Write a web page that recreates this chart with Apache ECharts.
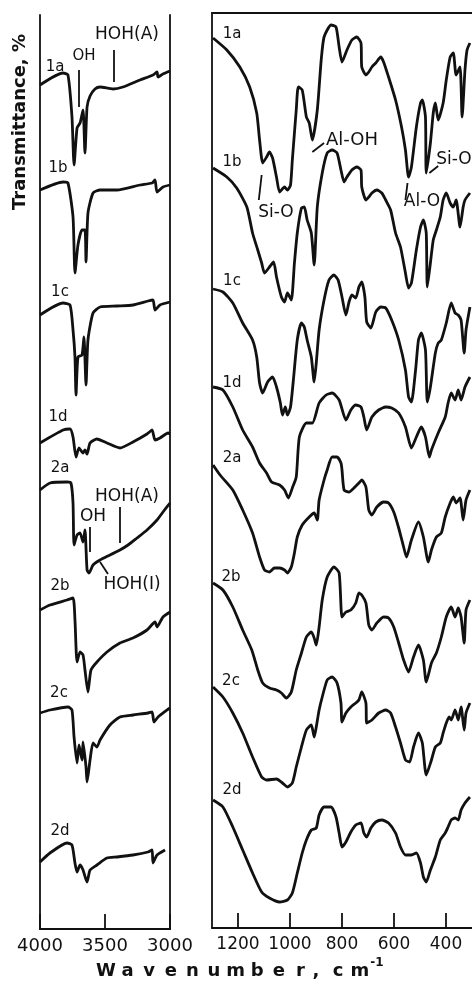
<!DOCTYPE html>
<html>
<head>
<meta charset="utf-8">
<script src="https://cdn.jsdelivr.net/npm/echarts@6/dist/echarts.min.js"></script>
<style>
	html, body { margin: 0; padding: 0; background: #fff; }
	#chart { width: 472px; height: 983px; }
</style>
</head>
<body>
<div id="chart"></div>
<script>
// samples, top to bottom
var sampleNames = ['1a', '1b', '1c', '1d', '2a', '2b', '2c', '2d'];

// tick labels
var hiTicks = [4000, 3500, 3000];
var loTicks = [1200, 1000, 800, 600, 400];

// 4000-3000 cm-1 region: [wavenumber, stacked transmittance]
var hi1a = [[4000,844],[3823,856],[3785,854],[3754,812],[3738,764],[3715,801],[3692,806],[3669,819],[3654,776],[3638,822],[3615,833],[3577,840],[3538,842],[3438,840],[3362,842],[3231,849],[3131,854],[3100,857],[3092,852],[3054,855],[3000,858]];
var hi1b = [[4000,739],[3823,747],[3785,746],[3746,712],[3731,656],[3708,684],[3677,699],[3654,699],[3646,667],[3631,716],[3592,736],[3538,739],[3408,739],[3231,744],[3138,746],[3115,749],[3100,737],[3054,742],[3000,744]];
var hi1c = [[4000,614],[3823,626],[3769,624],[3746,599],[3731,572],[3723,534],[3708,572],[3677,574],[3662,592],[3646,544],[3631,589],[3592,616],[3538,622],[3408,623],[3285,624],[3169,628],[3131,629],[3115,619],[3077,624],[3000,627]];
var hi1d = [[4000,486],[3823,499],[3769,500],[3746,492],[3723,472],[3700,481],[3669,476],[3654,479],[3638,475],[3615,486],[3562,490],[3485,486],[3385,481],[3285,487],[3177,495],[3138,499],[3115,489],[3077,491],[3015,496],[3000,495]];
var hi2a = [[4000,439],[3923,446],[3792,447],[3762,446],[3746,426],[3738,384],[3715,394],[3692,396],[3669,387],[3654,399],[3638,359],[3623,356],[3592,364],[3538,369],[3462,374],[3385,379],[3323,384],[3254,391],[3177,399],[3100,409],[3054,417],[3000,426]];
var hi2b = [[4000,319],[3923,324],[3792,329],[3746,331],[3731,309],[3715,267],[3692,277],[3669,274],[3654,259],[3631,237],[3608,259],[3562,267],[3485,277],[3385,286],[3285,291],[3177,299],[3115,307],[3100,302],[3054,312],[3000,317]];
var hi2c = [[4000,216],[3923,219],[3785,222],[3754,219],[3738,192],[3715,166],[3700,184],[3677,169],[3669,187],[3646,162],[3638,147],[3615,169],[3592,186],[3562,182],[3538,189],[3462,204],[3385,212],[3285,214],[3169,216],[3138,217],[3123,207],[3092,212],[3023,219],[3000,221]];
var hi2d = [[4000,67],[3923,76],[3792,86],[3754,84],[3731,66],[3715,57],[3692,64],[3669,59],[3638,47],[3615,59],[3562,64],[3485,71],[3408,72],[3285,74],[3169,77],[3138,79],[3131,66],[3100,74],[3038,79]];

// 1300-300 cm-1 region
var lo1a = [[1296,890],[1243,878],[1193,861],[1155,841],[1128,815],[1117,788],[1105,765],[1090,771],[1079,776],[1067,770],[1052,751],[1040,736],[1021,741],[1010,738],[998,743],[991,768],[976,818],[968,841],[953,838],[937,811],[926,805],[914,788],[895,818],[880,868],[869,891],[842,903],[823,901],[811,881],[800,866],[781,878],[762,888],[743,891],[727,885],[724,861],[708,853],[697,856],[685,861],[670,865],[651,871],[640,866],[621,851],[594,828],[571,801],[556,778],[544,751],[533,761],[514,801],[498,825],[491,828],[479,811],[476,755],[460,785],[449,815],[441,825],[430,808],[411,825],[399,848],[384,871],[372,875],[361,853],[346,861],[338,811],[327,858],[319,878],[308,885]];
var lo1b = [[1296,760],[1243,751],[1205,740],[1166,721],[1144,695],[1124,678],[1109,665],[1098,655],[1079,661],[1063,666],[1052,651],[1033,631],[1021,626],[1010,635],[995,628],[983,665],[972,695],[956,720],[945,721],[934,708],[918,695],[907,663],[895,721],[876,755],[857,775],[838,778],[819,775],[804,758],[792,746],[781,751],[762,758],[743,761],[727,758],[724,741],[708,728],[697,731],[685,735],[666,738],[647,735],[632,728],[613,718],[594,695],[575,681],[556,655],[544,640],[533,645],[514,678],[498,701],[487,708],[476,695],[472,641],[460,665],[449,688],[437,698],[422,711],[411,728],[399,735],[384,725],[372,721],[361,728],[346,701],[334,721],[327,728],[308,735]];
var lo1c = [[1296,639],[1258,636],[1220,625],[1182,605],[1144,588],[1128,571],[1117,545],[1105,535],[1086,546],[1067,551],[1052,541],[1037,525],[1029,513],[1018,521],[1010,513],[998,521],[987,548],[972,588],[956,605],[945,601],[934,588],[918,571],[907,546],[899,565],[888,598],[869,628],[850,648],[831,653],[815,648],[800,631],[785,613],[773,626],[762,633],[747,630],[735,641],[724,646],[712,631],[705,606],[689,600],[670,616],[651,621],[632,620],[609,608],[582,588],[556,558],[544,531],[533,526],[517,558],[506,588],[495,595],[479,578],[472,526],[460,541],[441,575],[430,585],[418,588],[399,605],[380,625],[365,615],[353,613],[342,608],[330,575],[323,598],[308,621]];
var lo1d = [[1296,541],[1258,538],[1220,521],[1182,498],[1144,481],[1117,465],[1090,455],[1071,446],[1040,443],[1021,438],[1006,430],[991,440],[976,451],[964,491],[937,505],[914,505],[888,525],[861,533],[838,535],[811,528],[785,508],[766,518],[747,523],[727,521],[716,511],[705,498],[685,511],[659,518],[632,521],[609,520],[582,515],[556,501],[533,480],[514,491],[495,501],[479,491],[464,471],[456,478],[430,495],[403,511],[392,525],[380,535],[365,528],[353,538],[342,528],[327,541],[308,551]];
var lo2a = [[1296,463],[1269,453],[1220,438],[1182,418],[1144,395],[1117,371],[1098,358],[1079,356],[1060,360],[1040,360],[1021,358],[1010,355],[995,361],[983,375],[972,391],[953,403],[926,411],[907,415],[895,408],[888,428],[869,448],[857,458],[838,471],[819,471],[804,465],[800,458],[792,438],[773,436],[754,440],[735,445],[724,448],[708,441],[697,418],[685,413],[666,421],[640,426],[621,425],[601,416],[582,400],[563,381],[552,371],[533,388],[506,406],[487,391],[468,366],[456,378],[437,391],[418,395],[403,411],[384,425],[372,431],[361,425],[346,430],[334,408],[323,428],[308,438]];
var lo2b = [[1296,345],[1258,338],[1220,321],[1182,298],[1147,278],[1124,258],[1105,245],[1079,240],[1052,238],[1033,235],[1014,230],[995,236],[976,258],[956,275],[937,291],[918,296],[907,290],[899,283],[888,301],[876,328],[857,351],[831,361],[811,355],[800,311],[785,316],[766,318],[747,325],[735,335],[724,333],[708,325],[697,303],[685,298],[666,305],[640,311],[621,310],[601,301],[582,285],[563,268],[544,256],[525,271],[506,283],[487,268],[476,246],[456,265],[437,275],[418,291],[399,311],[380,321],[365,311],[353,320],[342,311],[330,285],[323,318],[308,328]];
var lo2c = [[1296,241],[1258,231],[1220,215],[1182,195],[1144,171],[1109,151],[1090,148],[1052,149],[1029,145],[1010,141],[991,145],[976,161],[956,181],[937,198],[918,203],[907,191],[899,201],[888,218],[876,231],[857,248],[838,251],[819,245],[804,225],[800,206],[785,215],[766,221],[747,225],[735,228],[724,236],[708,225],[705,205],[685,208],[659,215],[632,218],[613,215],[594,201],[575,185],[556,168],[540,166],[525,181],[506,195],[491,185],[476,153],[456,168],[441,181],[422,185],[411,195],[399,205],[388,211],[380,208],[365,218],[353,208],[342,221],[330,198],[323,215],[308,225]];
var lo2d = [[1296,128],[1258,121],[1220,101],[1182,78],[1144,55],[1109,36],[1079,30],[1040,26],[1010,28],[991,35],[972,55],[953,75],[937,88],[918,98],[899,100],[888,113],[869,121],[842,121],[823,111],[811,95],[800,81],[785,86],[766,96],[747,103],[727,105],[716,95],[705,91],[689,100],[670,106],[647,108],[621,105],[594,95],[575,81],[556,73],[533,73],[514,75],[498,65],[487,51],[476,46],[460,58],[441,71],[422,88],[403,95],[392,101],[380,108],[365,110],[353,108],[342,118],[327,125],[308,131]];

// band marker strokes
var hiMarks = [
	[[3700,859],[3700,822]],
	[[3431,879],[3431,847]],
	[[3615,402],[3615,377]],
	[[3385,422],[3385,386]],
	[[3538,367],[3477,355]]
];
var loMarks = [
	[[914,776],[869,785]],
	[[1109,753],[1120,728]],
	[[548,745],[556,728]],
	[[464,755],[430,762]]
];

var chart = echarts.init(document.getElementById('chart'));

var ink = '#111';
var hiTraces = [hi1a, hi1b, hi1c, hi1d, hi2a, hi2b, hi2c, hi2d];
var loTraces = [lo1a, lo1b, lo1c, lo1d, lo2a, lo2b, lo2c, lo2d];

function frameAxis(extra)
{
	var a = {
		type: 'value',
		axisLine: { show: true, lineStyle: { color: ink, width: 1.8 } },
		axisTick: { show: false },
		axisLabel: { show: false },
		splitLine: { show: false }
	};
	for (var k in extra) a[k] = extra[k];
	return a;
}

function markLineOf(marks)
{
	return {
		silent: true,
		symbol: ['none', 'none'],
		label: { show: false },
		lineStyle: { color: ink, width: 1.8, type: 'solid' },
		data: marks.map(function(m) { return [{ coord: m[0] }, { coord: m[1] }]; })
	};
}

var series = [];
for (var i = 0; i < sampleNames.length; i++)
{
	series.push({
		name: sampleNames[i] + ' OH',
		type: 'line', xAxisIndex: 0, yAxisIndex: 0,
		data: hiTraces[i], showSymbol: false, smooth: 0.2,
		lineStyle: { color: ink, width: 2.8 },
		markLine: i == 0 ? markLineOf(hiMarks) : undefined
	});
	series.push({
		name: sampleNames[i] + ' lattice',
		type: 'line', xAxisIndex: 2, yAxisIndex: 2,
		data: loTraces[i], showSymbol: false, smooth: 0.2,
		lineStyle: { color: ink, width: 2.8 },
		markLine: i == 0 ? markLineOf(loMarks) : undefined
	});
}

var labelFont = '15px "DejaVu Sans"';
var noteFont = '17px "DejaVu Sans"';
var texts = [
	['1a', 55, 67, labelFont], ['OH', 84, 56, '15px "DejaVu Sans"'], ['HOH(A)', 127, 35, noteFont],
	['1b', 58, 168, labelFont], ['1c', 60, 292, labelFont], ['1d', 58, 417, labelFont],
	['2a', 60, 468, labelFont], ['HOH(A)', 127, 497, noteFont], ['OH', 93, 517, noteFont],
	['HOH(I)', 132, 585, noteFont], ['2b', 60, 586, labelFont], ['2c', 59, 693, labelFont],
	['2d', 60, 831, labelFont],
	['1a', 232, 34, labelFont], ['Al-OH', 352, 140, '18px "DejaVu Sans"'], ['Si-O', 454, 160, noteFont],
	['1b', 232, 162, labelFont], ['Si-O', 276, 213, noteFont], ['Al-O', 422, 202, noteFont],
	['1c', 232, 281, labelFont], ['1d', 232, 383, labelFont], ['2a', 232, 458, labelFont],
	['2b', 231, 577, labelFont], ['2c', 231, 681, labelFont], ['2d', 232, 790, labelFont]
];

var graphic = texts.map(function(t)
{
	return { type: 'text', x: t[1], y: t[2], silent: true,
		style: { text: t[0], font: t[3], fill: ink, align: 'center', verticalAlign: 'middle' } };
});

graphic.push({ type: 'text', x: 20, y: 122, rotation: Math.PI / 2, silent: true,
	style: { text: 'Transmittance, %', font: 'bold 18px "DejaVu Sans"', fill: ink, align: 'center', verticalAlign: 'middle' } });

var titleChars = 'Wavenumber'.split('');
for (var j = 0; j < titleChars.length; j++)
{
	graphic.push({ type: 'text', x: 106 + 21.6 * j, y: 971, silent: true,
		style: { text: titleChars[j], font: 'bold 18px "DejaVu Sans"', fill: ink, align: 'center', verticalAlign: 'middle' } });
}
[[',', 316], ['c', 338], ['m', 360]].forEach(function(c)
{
	graphic.push({ type: 'text', x: c[1], y: 971, silent: true,
		style: { text: c[0], font: 'bold 18px "DejaVu Sans"', fill: ink, align: 'center', verticalAlign: 'middle' } });
});
graphic.push({ type: 'text', x: 377, y: 963, silent: true,
	style: { text: '-1', font: 'bold 12px "DejaVu Sans"', fill: ink, align: 'center', verticalAlign: 'middle' } });

function plainNumber(v) { return String(v); }

var option =
{
	backgroundColor: '#fff',
	animation: false,
	grid: [
		{ left: 40, top: 15, width: 130, height: 914 },
		{ left: 212, top: 13, width: 262, height: 915 }
	],
	xAxis: [
		frameAxis({ gridIndex: 0, min: 3000, max: 4000, inverse: true, position: 'bottom', interval: 500,
			axisTick: { show: true, inside: true, length: 15, lineStyle: { color: ink, width: 1.8 } },
			axisLabel: { show: true, color: ink, fontSize: 18, fontFamily: 'DejaVu Sans', margin: 8,
				customValues: hiTicks, formatter: plainNumber } }),
		frameAxis({ gridIndex: 0, min: 3000, max: 4000, inverse: true, position: 'top' }),
		frameAxis({ gridIndex: 1, min: 300, max: 1300, inverse: true, position: 'bottom',
			axisTick: { show: true, inside: true, length: 15, customValues: loTicks, lineStyle: { color: ink, width: 1.8 } },
			axisLabel: { show: true, color: ink, fontSize: 17, fontFamily: 'DejaVu Sans', margin: 8,
				customValues: loTicks, formatter: plainNumber } }),
		frameAxis({ gridIndex: 1, min: 300, max: 1300, inverse: true, position: 'top' })
	],
	yAxis: [
		frameAxis({ gridIndex: 0, min: 0, max: 914, position: 'left' }),
		frameAxis({ gridIndex: 0, min: 0, max: 914, position: 'right' }),
		frameAxis({ gridIndex: 1, min: 0, max: 915, position: 'left' })
	],
	series: series,
	graphic: graphic
};

chart.setOption(option);
</script>
</body>
</html>
